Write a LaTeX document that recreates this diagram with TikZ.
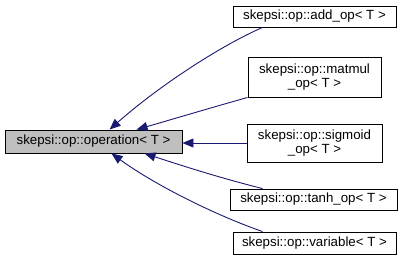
\documentclass[tikz,border=0pt]{standalone}
\usepackage{fontspec}
\setmainfont{Liberation Sans}
\usetikzlibrary{arrows.meta}
\definecolor{edgeblue}{HTML}{191970}
\definecolor{basegray}{HTML}{BFBFBF}
\tikzset{
  classbox/.style={draw=black, line width=0.9pt, fill=white, inner sep=0pt,
    align=center, font=\fontsize{13.3}{14.5}\selectfont},
  basebox/.style={classbox, fill=basegray},
  inherit/.style={draw=edgeblue, line width=0.9pt,
    -{Triangle[length=11pt,width=9pt,fill=edgeblue]}},
}
\begin{document}
\begin{tikzpicture}[x=1pt, y=-1pt]
\useasboundingbox (0,0) rectangle (405,271);

% base class
\node[basebox, minimum width=177pt, minimum height=23pt] (base) at (93.5,141.5)
  {skepsi::op::operation< T >};

% derived classes
\node[classbox, minimum width=163pt, minimum height=21pt] (addop) at (314.5,16.5)
  {skepsi::op::add\_op< T >};
\node[classbox, minimum width=133pt, minimum height=40pt] (matmul) at (314.5,77)
  {skepsi::op::matmul\\\_op< T >};
\node[classbox, minimum width=135pt, minimum height=38pt] (sigmoid) at (314.5,143)
  {skepsi::op::sigmoid\\\_op< T >};
\node[classbox, minimum width=167pt, minimum height=21pt] (tanh) at (313.5,199.5)
  {skepsi::op::tanh\_op< T >};
\node[classbox, minimum width=163pt, minimum height=22pt] (variable) at (314.5,243)
  {skepsi::op::variable< T >};

% inheritance arrows
\draw[inherit] ([xshift=30pt]addop.south west)
  .. controls (222,45) and (160,85) .. ([xshift=105pt]base.north west);
\draw[inherit] (matmul.south west)
  .. controls (210,108) and (170,120) .. ([xshift=132pt]base.north west);
\draw[inherit] (sigmoid.west |- 0,143) -- (base.east |- 0,143);
\draw[inherit] ([xshift=33pt]tanh.north west)
  .. controls (220,178) and (180,165) .. ([xshift=140pt]base.south west);
\draw[inherit] ([xshift=30pt]variable.north west)
  .. controls (215,215) and (155,185) .. ([xshift=107pt]base.south west);
\end{tikzpicture}
\end{document}
